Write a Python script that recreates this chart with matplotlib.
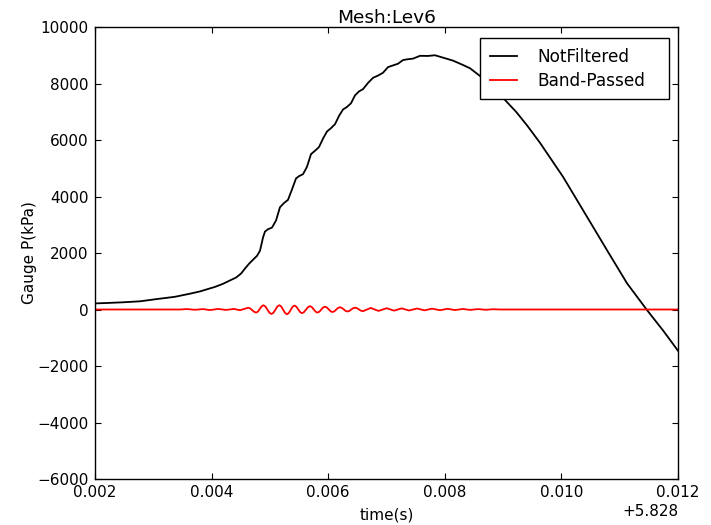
import matplotlib
matplotlib.use("Agg")
import matplotlib.pyplot as plt
from matplotlib.ticker import ScalarFormatter

# time axis offset (s); times below are in ms after this offset
T_OFFSET = 5.828

# unfiltered gauge pressure (kPa)
raw_ms = [2.000, 2.257, 2.480, 2.772, 3.063, 3.372, 3.630, 3.801, 3.921, 4.058,
          4.196, 4.316, 4.419, 4.504, 4.573, 4.642, 4.710, 4.779, 4.830, 4.882,
          4.916, 4.967, 5.036, 5.105, 5.173, 5.242, 5.310, 5.379, 5.448, 5.499,
          5.568, 5.636, 5.705, 5.774, 5.842, 5.911, 5.979, 6.048, 6.117, 6.185,
          6.254, 6.322, 6.391, 6.460, 6.528, 6.597, 6.683, 6.768, 6.854, 6.940,
          7.026, 7.111, 7.197, 7.283, 7.369, 7.455, 7.575, 7.712, 7.832, 8.003,
          8.141, 8.312, 8.432, 8.655, 9.033, 9.222, 9.410, 9.633, 10.027, 10.370,
          10.782, 11.125, 11.468, 11.743, 12.000]
raw_kpa = [215, 235, 255, 290, 370, 450, 560, 640, 715, 800,
           910, 1030, 1130, 1270, 1450, 1620, 1760, 1900, 2080, 2550,
           2760, 2840, 2900, 3150, 3620, 3770, 3880, 4250, 4640, 4720,
           4790, 5050, 5500, 5620, 5750, 6050, 6300, 6420, 6560, 6850,
           7080, 7170, 7300, 7580, 7720, 7800, 8020, 8200, 8280, 8380,
           8580, 8640, 8700, 8830, 8860, 8880, 8980, 8975, 9000, 8895,
           8810, 8655, 8540, 8185, 7416, 7000, 6520, 5900, 4700, 3520,
           2100, 930, -20, -740, -1460]

# band-passed signal (kPa)
bp_ms = [2.000, 3.458, 3.578, 3.715, 3.852, 3.973, 4.110, 4.247, 4.384, 4.487,
         4.624, 4.659, 4.727, 4.762, 4.793, 4.856, 4.887, 4.922, 4.992,
         5.027, 5.061, 5.128, 5.161, 5.194, 5.260, 5.293, 5.325, 5.390,
         5.422, 5.454, 5.519, 5.551, 5.585, 5.654, 5.688, 5.720, 5.784,
         5.816, 5.848, 5.913, 5.945, 5.977, 6.042, 6.074, 6.106, 6.170,
         6.202, 6.234, 6.299, 6.331, 6.363, 6.428, 6.460, 6.494, 6.563,
         6.597, 6.729, 6.863, 7.003, 7.129,
         7.261, 7.386, 7.523, 7.652, 7.780, 7.918, 8.046, 8.175, 8.312, 8.432,
         8.569, 8.707, 8.827, 8.947, 12.000]
bp_kpa = [0, 0, 15, -10, 15, -20, 20, -15, 20, -25,
          60, 43, -78, -110, -78, 107, 150, 107, -114,
          -160, -114, 107, 150, 107, -121, -170, -121, 99,
          140, 99, -92, -130, -92, 85, 120, 85, -78,
          -110, -78, 71, 100, 71, -64, -90, -64, 57,
          80, 57, -50, -70, -50, 46, 65, 46, -43,
          -60, 55, -50, 45, -40,
          40, -35, 35, -30, 30, -25, 25, -20, 20, -15,
          15, -10, 10, 0, 0]

raw_t = [T_OFFSET + m / 1000 for m in raw_ms]
bp_t = [T_OFFSET + m / 1000 for m in bp_ms]

plt.rcParams['font.family'] = 'DejaVu Sans'

fig = plt.figure(figsize=(7.11, 5.25), dpi=100, facecolor='white')
ax = fig.add_axes([95 / 711, 1 - 479 / 525, 583 / 711, 452 / 525])

ax.plot(raw_t, raw_kpa, color='black', lw=1.3, label='NotFiltered')
ax.plot(bp_t, bp_kpa, color='red', lw=1.3, label='Band-Passed')

ax.set_xlim(T_OFFSET + 0.002, T_OFFSET + 0.012)
ax.set_ylim(-6000, 10000)
ax.set_yticks(range(-6000, 10001, 2000))

fmt = ScalarFormatter(useOffset=T_OFFSET)
ax.xaxis.set_major_formatter(fmt)
ax.xaxis.get_offset_text().set_fontsize(11)

ax.tick_params(direction='in', top=True, right=True, length=4.5,
               width=0.8, labelsize=11, pad=4.5)
for s in ax.spines.values():
    s.set_linewidth(1.0)

ax.set_title('Mesh:Lev6', fontsize=13.3, pad=3)
ax.set_xlabel('time(s)', fontsize=11, labelpad=5)
ax.set_ylabel('Gauge P(kPa)', fontsize=11, labelpad=0)

leg = ax.legend(loc='upper right', bbox_to_anchor=(0.661, 0.775, 0.324, 0.2),
                mode='expand', borderaxespad=0, fontsize=12.2, fancybox=False,
                framealpha=1, edgecolor='black', handlelength=1.6,
                handletextpad=1.2, borderpad=0.55, labelspacing=0.35)
leg.get_frame().set_linewidth(1.0)

fig.savefig('out.png', dpi=100, facecolor='white')
